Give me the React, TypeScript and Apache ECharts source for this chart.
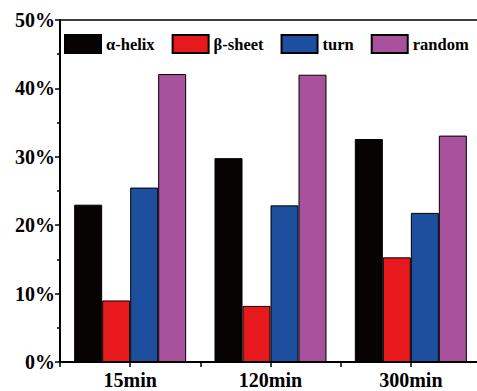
import React, { useEffect, useRef } from "react";
import * as echarts from "echarts";

const categories = ["15min", "120min", "300min"];
const seriesNames = ["α-helix", "β-sheet", "turn", "random"];
const alphaHelix = [23.0, 29.8, 32.6];
const betaSheet = [9.0, 8.2, 15.3];
const turn = [25.5, 22.9, 21.8];
const random = [42.1, 42.0, 33.1];
const colors = ["#070303", "#e8191c", "#1d4f9f", "#a8529e"];
const yTicks = [0, 10, 20, 30, 40, 50];

const FONT = "Liberation Serif";

export default function App() {
  const ref = useRef<HTMLDivElement>(null);
  useEffect(() => {
    document.body.style.margin = "0";
    document.body.style.overflow = "hidden";
    if (!ref.current) return;
    const chart = echarts.init(ref.current, undefined, { renderer: "svg" });
    const values = [alphaHelix, betaSheet, turn, random];
    chart.setOption({
      animation: false,
      backgroundColor: "#ffffff",
      textStyle: { fontFamily: FONT, fontWeight: "bold", color: "#000" },
      legend: {
        left: 64,
        top: 34,
        itemWidth: 36,
        itemHeight: 18,
        itemGap: 17,
        padding: 0,
        icon: "rect",
        textStyle: { fontFamily: FONT, fontWeight: "bold", fontSize: 16.5, color: "#000" },
        data: seriesNames,
      },
      grid: { left: 60, top: 20, width: 421, bottom: 29, show: false, containLabel: false },
      xAxis: [
        {
          type: "category",
          data: categories,
          axisLine: { show: true, lineStyle: { color: "#000", width: 2 } },
          axisTick: { show: true, length: 5, lineStyle: { color: "#000", width: 1.5 } },
          axisLabel: { fontFamily: FONT, fontWeight: "bold", fontSize: 20, color: "#000", margin: 8 },
          splitLine: { show: false },
        },
        {
          type: "category",
          data: categories,
          position: "bottom",
          axisLine: { show: false },
          axisTick: { show: true, alignWithLabel: true, length: 5, lineStyle: { color: "#000", width: 1.5 } },
          axisLabel: { show: false },
          splitLine: { show: false },
        },
        {
          type: "category",
          data: categories,
          position: "top",
          axisLine: { show: true, lineStyle: { color: "#000", width: 1.5 } },
          axisTick: { show: false },
          axisLabel: { show: false },
          splitLine: { show: false },
        },
      ],
      yAxis: {
        type: "value",
        min: yTicks[0],
        max: yTicks[yTicks.length - 1],
        interval: 10,
        axisLine: { show: true, lineStyle: { color: "#000", width: 2 } },
        axisTick: { show: true, length: 5, lineStyle: { color: "#000", width: 1.5 } },
        minorTick: { show: true, splitNumber: 2, length: 3, lineStyle: { color: "#000", width: 1.5 } },
        splitLine: { show: false },
        axisLabel: { fontFamily: FONT, fontWeight: "bold", fontSize: 20, color: "#000", margin: 5, formatter: "{value}%" },
      },
      series: seriesNames.map((name, i) => ({
        name,
        type: "bar",
        xAxisIndex: 0,
        data: values[i],
        barWidth: 28,
        barGap: "0%",
        itemStyle: { color: colors[i], borderColor: "#000", borderWidth: 1 },
      })),
    });
    return () => chart.dispose();
  }, []);
  return (
    <div style={{ width: 477, height: 391, overflow: "hidden", position: "relative" }}>
      <div ref={ref} style={{ width: 482, height: 391 }} />
    </div>
  );
}
